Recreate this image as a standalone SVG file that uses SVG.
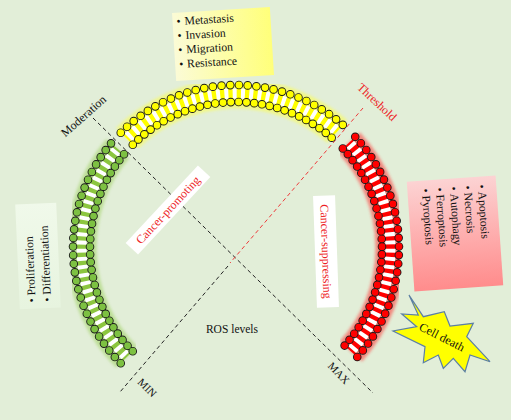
<svg xmlns="http://www.w3.org/2000/svg" width="511" height="420" viewBox="0 0 511 420">
<style>
text{font-family:"Liberation Serif","Times New Roman",serif;fill:#111}
.lbl{font-size:12px}
.lst{font-size:11.7px}
.red{fill:#ee1c25}
.dash{fill:none;stroke:#222;stroke-width:1;stroke-dasharray:4 3}
.dashr{fill:none;stroke:#ee3a3a;stroke-width:1;stroke-dasharray:4 3}
.glow{fill:none;stroke-width:30;opacity:.55;filter:url(#blur)}
.band{fill:none;stroke:#fff;stroke-width:10}
.rung{fill:none;stroke-width:10;stroke-dasharray:0.52 0.48;stroke-dashoffset:0.26}
.dotk{fill:none;stroke:#1a1a1a;stroke-width:8.6;stroke-linecap:round;stroke-dasharray:0 1}
.dotc{fill:none;stroke-width:6.8;stroke-linecap:round;stroke-dasharray:0 1}
.c{text-anchor:middle;dominant-baseline:central}
</style>
<defs>
<filter id="blur" x="-20%" y="-20%" width="140%" height="140%"><feGaussianBlur stdDeviation="1.5"/></filter>
<linearGradient id="gy" x1="0" y1="0" x2="1" y2="0"><stop offset="0" stop-color="#fbfbd6"/><stop offset="1" stop-color="#ffff7a"/></linearGradient>
<linearGradient id="gg" x1="0" y1="0" x2="0" y2="1"><stop offset="0" stop-color="#f0f9ea"/><stop offset="1" stop-color="#e7f4df"/></linearGradient>
<linearGradient id="gp" x1="0" y1="0" x2="0" y2="1"><stop offset="0" stop-color="#fcd3d3"/><stop offset="1" stop-color="#ff8c8c"/></linearGradient>
</defs>
<rect width="511" height="420" fill="#e2eed8"/>

<g id="connectors">
<line class="dash" x1="93" y1="118" x2="373" y2="393"/>
<line class="dashr" x1="363" y1="108" x2="230" y2="263"/>
<line class="dash" x1="228" y1="266" x2="120" y2="392"/>
</g>

<g id="arc-green">
<path class="glow" stroke="#9ed060" d="M126.75,357.25 A154.5,154.5 0 0 1 117.65,148.69"/>
<path class="band" d="M126.75,357.25 A154.5,154.5 0 0 1 117.65,148.69"/>
<path class="rung" stroke="#8cc63f" pathLength="28.02" d="M126.75,357.25 A154.5,154.5 0 0 1 117.65,148.69"/>
<path class="dotk" pathLength="28.02" d="M120.74,363.26 A163,163 0 0 1 111.14,143.23"/>
<path class="dotk" pathLength="28.02" d="M132.76,351.24 A146,146 0 0 1 124.16,154.15"/>
<path class="dotc" stroke="#7dc142" pathLength="28.02" d="M120.74,363.26 A163,163 0 0 1 111.14,143.23"/>
<path class="dotc" stroke="#7dc142" pathLength="28.02" d="M132.76,351.24 A146,146 0 0 1 124.16,154.15"/>
</g>

<g id="arc-yellow">
<path class="glow" stroke="#ffff40" d="M126.75,138.75 A154.5,154.5 0 0 1 337.36,131.40"/>
<path class="band" d="M126.75,138.75 A154.5,154.5 0 0 1 337.36,131.40"/>
<path class="rung" stroke="#ffff00" pathLength="28.02" d="M126.75,138.75 A154.5,154.5 0 0 1 337.36,131.40"/>
<path class="dotk" pathLength="28.02" d="M120.74,132.74 A163,163 0 0 1 342.94,124.98"/>
<path class="dotk" pathLength="28.02" d="M132.76,144.76 A146,146 0 0 1 331.78,137.81"/>
<path class="dotc" stroke="#ffff00" pathLength="28.02" d="M120.74,132.74 A163,163 0 0 1 342.94,124.98"/>
<path class="dotc" stroke="#ffff00" pathLength="28.02" d="M132.76,144.76 A146,146 0 0 1 331.78,137.81"/>
</g>

<g id="arc-red">
<path class="glow" stroke="#ff3030" d="M348.99,142.63 A154.5,154.5 0 0 1 350.82,351.38"/>
<path class="band" d="M348.99,142.63 A154.5,154.5 0 0 1 350.82,351.38"/>
<path class="rung" stroke="#ff0000" pathLength="28.02" d="M348.99,142.63 A154.5,154.5 0 0 1 350.82,351.38"/>
<path class="dotk" pathLength="28.02" d="M355.21,136.83 A163,163 0 0 1 357.13,357.07"/>
<path class="dotk" pathLength="28.02" d="M342.78,148.43 A146,146 0 0 1 344.50,345.69"/>
<path class="dotc" stroke="#ff0000" pathLength="28.02" d="M355.21,136.83 A163,163 0 0 1 357.13,357.07"/>
<path class="dotc" stroke="#ff0000" pathLength="28.02" d="M342.78,148.43 A146,146 0 0 1 344.50,345.69"/>
</g>

<g id="box-yellow" transform="translate(223,44) rotate(-3.5)">
<rect x="-49" y="-34" width="98" height="68" fill="url(#gy)"/>
<text class="lst" y="-21.5"><tspan x="-45">•</tspan><tspan x="-37">Metastasis</tspan></text>
<text class="lst" y="-7.2"><tspan x="-45">•</tspan><tspan x="-37">Invasion</tspan></text>
<text class="lst" y="7.1"><tspan x="-45">•</tspan><tspan x="-37">Migration</tspan></text>
<text class="lst" y="21.4"><tspan x="-45">•</tspan><tspan x="-37">Resistance</tspan></text>
</g>

<g id="box-green" transform="translate(38,256) rotate(-2.5)">
<rect x="-20.5" y="-52.5" width="41" height="105" fill="url(#gg)"/>
<text class="lst" transform="translate(-4.5,46) rotate(-90)"><tspan x="0">•</tspan><tspan x="7">Proliferation</tspan></text>
<text class="lst" transform="translate(11,46) rotate(-90)"><tspan x="0">•</tspan><tspan x="7">Differentiation</tspan></text>
</g>

<g id="box-pink" transform="translate(455,233.5) rotate(-4)">
<rect x="-44.5" y="-55" width="89" height="110" fill="url(#gp)"/>
<text class="lst" transform="translate(26,-47) rotate(90)"><tspan x="0">•</tspan><tspan x="7">Apoptosis</tspan></text>
<text class="lst" transform="translate(12,-47) rotate(90)"><tspan x="0">•</tspan><tspan x="7">Necrosis</tspan></text>
<text class="lst" transform="translate(-2,-47) rotate(90)"><tspan x="0">•</tspan><tspan x="7">Autophagy</tspan></text>
<text class="lst" transform="translate(-16,-47) rotate(90)"><tspan x="0">•</tspan><tspan x="7">Ferroptosis</tspan></text>
<text class="lst" transform="translate(-30,-47) rotate(90)"><tspan x="0">•</tspan><tspan x="7">Pyroptosis</tspan></text>
</g>

<g id="label-promoting" transform="translate(168,210) rotate(-47)">
<rect x="-53" y="-8.5" width="106" height="17" fill="#fff"/>
<text class="lbl red c" x="0" y="0">Cancer-promoting</text>
</g>

<g id="label-suppressing" transform="translate(326,251.5) rotate(88)">
<rect x="-56" y="-11" width="112" height="22" fill="#fff"/>
<text class="lbl red c" x="0" y="0">Cancer-suppressing</text>
</g>

<g id="cell-death">
<polygon points="409,295 423.3,316.7 444.3,311.7 450,326 473.3,323.3 466.7,336.7 490,361.7 470,355 465,371.7 453.3,358.3 443.3,368.3 438.3,355 423.3,362.7 425,346.7 393,331 416.7,326.7 401.7,314 418.3,315" fill="#ffff00" stroke="#5b7fa6" stroke-width="1.2" stroke-linejoin="miter"/>
<text class="lbl c" transform="translate(442,337) rotate(27)">Cell death</text>
</g>

<g id="labels">
<text class="lbl c" transform="translate(83.5,116) rotate(-41.5)">Moderation</text>
<text class="lbl red c" transform="translate(377,102) rotate(43)">Threshold</text>
<text class="lbl c" x="232" y="329" style="font-size:11.5px">ROS levels</text>
<text class="lbl c" transform="translate(147.5,387.5) rotate(45)" style="font-size:11px">MIN</text>
<text class="lbl c" transform="translate(339,373) rotate(46)" style="font-size:11px">MAX</text>
</g>
</svg>
